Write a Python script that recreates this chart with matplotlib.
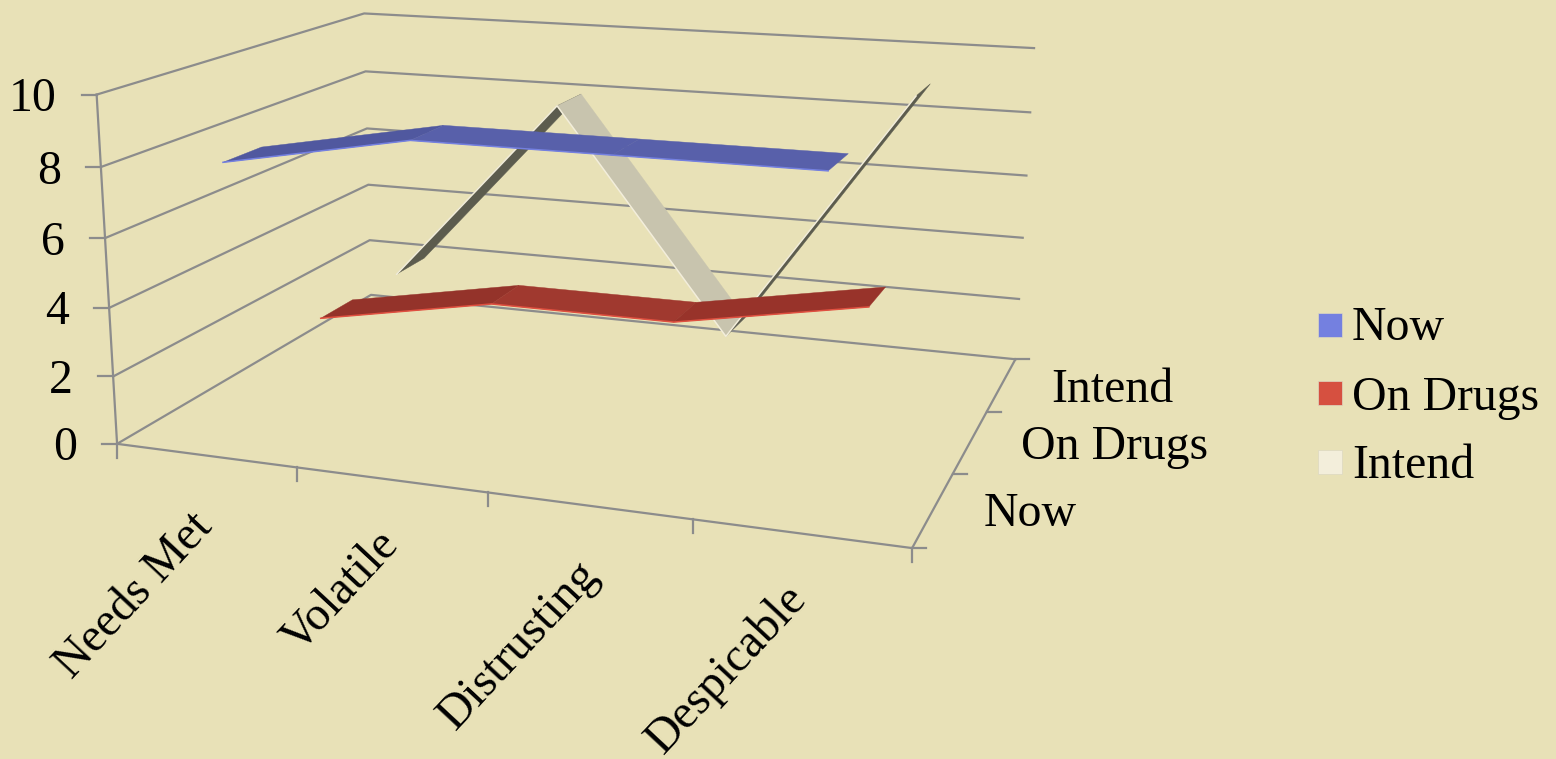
import matplotlib
matplotlib.use("Agg")
import matplotlib.pyplot as plt
from matplotlib.patches import Polygon, Rectangle
import numpy as np

categories = ["Needs Met", "Volatile", "Distrusting", "Despicable"]
series_names = ["Now", "On Drugs", "Intend"]
now_values = [8, 9, 9, 9]
drugs_values = [2, 3, 3, 4]
intend_values = [2, 8, 1, 9]
value_ticks = [0, 2, 4, 6, 8, 10]

BG = "#e8e1b7"
GRID = "#8c8c8c"

# pixel positions of the box, used to work out the perspective
front_px = [(117, 444), (113, 377), (109, 308), (105, 238), (101, 166), (97, 95)]
left_px = [(371, 295), (369.5, 240), (369, 184.5), (367, 128), (366, 71.5), (363, 14)]
right_px = [(1015, 359), (1019, 299), (1023, 238), (1027, 176), (1030, 112), (1034, 48)]


def fit_camera():
    pairs = []
    for i, z in enumerate(value_ticks):
        pairs.append(((0, 0, z), front_px[i]))
        pairs.append(((0, 3, z), left_px[i]))
        pairs.append(((4, 3, z), right_px[i]))
    pairs.append(((4, 0, 0), (912, 548)))
    rows = []
    for (x, y, z), (u, v) in pairs:
        rows.append([x, y, z, 1, 0, 0, 0, 0, -u * x, -u * y, -u * z, -u])
        rows.append([0, 0, 0, 0, x, y, z, 1, -v * x, -v * y, -v * z, -v])
    _, _, vt = np.linalg.svd(np.array(rows, dtype=float))
    return vt[-1].reshape(3, 4)


CAM = fit_camera()


def project(x, y, z):
    p = CAM @ np.array([x, y, z, 1.0])
    return p[0] / p[2], p[1] / p[2]


def draw_ribbon(ax, values, depth, top_colors, edge_color, zorder):
    front = depth + 0.3
    back = depth + 0.7
    for i in range(len(values) - 1):
        quad = [project(i + 0.5, front, values[i]), project(i + 0.5, back, values[i]),
                project(i + 1.5, back, values[i + 1]), project(i + 1.5, front, values[i + 1])]
        ax.add_patch(Polygon(quad, closed=True, fc=top_colors[i], ec=top_colors[i], lw=0.3, zorder=zorder))
    edge = [project(i + 0.5, front, v) for i, v in enumerate(values)]
    ax.plot([p[0] for p in edge], [p[1] for p in edge], color=edge_color, lw=1.1, zorder=zorder + 0.1)


fig = plt.figure(figsize=(15.56, 7.59), dpi=100, facecolor=BG)
ax = fig.add_axes([0, 0, 1, 1])
ax.set_xlim(0, 1556)
ax.set_ylim(759, 0)
ax.axis("off")

font = {"family": "Liberation Serif", "color": "black", "fontsize": 34.4}
line = {"color": GRID, "lw": 1.6, "zorder": 1}

# walls and floor
for z in value_ticks:
    pts = [project(0, 0, z), project(0, 3, z), project(4, 3, z)]
    ax.plot([p[0] for p in pts], [p[1] for p in pts], **line)
    fx, fy = pts[0]
    ax.plot([fx - 15, fx], [fy, fy], **line)
    ax.text(fx - 40, fy + 16.5, str(z), ha="right", va="baseline", **font)
pts = [project(0, 0, 10), project(0, 0, 0), project(4, 0, 0), project(4, 3, 0)]
ax.plot([p[0] for p in pts], [p[1] for p in pts], **line)
for i in range(5):
    tx, ty = project(i, 0, 0)
    ax.plot([tx, tx], [ty, ty + 14], **line)
for i in range(4):
    tx, ty = project(4, i, 0)
    ax.plot([tx, tx + 14], [ty, ty], **line)

draw_ribbon(ax, intend_values, 2, ["#5c5c4e", "#c8c4ae", "#5c5c4e"], "#f3eedb", 2)
draw_ribbon(ax, drugs_values, 1, ["#94332a", "#a0392f", "#98332a"], "#e05040", 3)
draw_ribbon(ax, now_values, 0, ["#50589f", "#5860aa", "#5860aa"], "#7480e0", 4)

label_pos = [(134, 596), (341, 591), (519, 645), (727, 669)]
for name, (lx, ly) in zip(categories, label_pos):
    ax.text(lx, ly, name, rotation=47, rotation_mode="anchor", ha="center", va="center", **font)

depth_pos = [(984, 526), (1021, 459), (1051, 402)]
for name, (lx, ly) in zip(series_names, depth_pos):
    ax.text(lx, ly, name, ha="left", va="baseline", **font)

legend_colors = ["#7480e0", "#d65040", "#f3eedb"]
legend_y = [324.5, 393, 461.5]
legend_base = [340, 410, 478]
for name, col, ly, by in zip(series_names, legend_colors, legend_y, legend_base):
    ax.add_patch(Rectangle((1318, ly - 12), 24, 24, fc=col, ec="#ddd8c0", lw=0.5))
    ax.text(1352, by, name, ha="left", va="baseline", **font)

fig.savefig("out.png", dpi=100, facecolor=BG)
